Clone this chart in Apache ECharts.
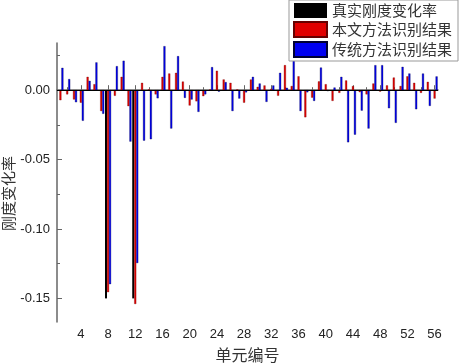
<!DOCTYPE html>
<html><head><meta charset="utf-8">
<script src="https://cdn.jsdelivr.net/npm/echarts@6/dist/echarts.min.js"></script>
<style>html,body{margin:0;padding:0;background:#fff}#c{width:459px;height:363px}</style>
</head><body><div id="c"></div>
<script>
const units = ['1','2','3','4','5','6','7','8','9','10','11','12','13','14','15','16','17','18','19','20',
'21','22','23','24','25','26','27','28','29','30','31','32','33','34','35','36','37','38','39','40',
'41','42','43','44','45','46','47','48','49','50','51','52','53','54','55','56'];
const trueVals = [0,0,0,0,0,0,0,-0.150,0,0,0,-0.150,0,0,0,0,0,0,0,0,
0,0,0,0,0,0,0,0,0,0,0,0,0,0,0,0,0,0,0,0,
0,0,0,0,0,0,0,0,0,0,0,0,0,0,0,0];
const ourVals = [-0.0072,-0.003,-0.0067,-0.009,0.0096,0.0043,-0.015,-0.1455,-0.004,0.0096,
-0.0115,-0.154,0.0053,0.0005,-0.003,0.0096,0.012,0.0125,0.0062,-0.011,
-0.008,-0.0043,0.0005,0.014,0.0077,0.0053,0.0005,-0.009,0.0077,0.0024,
0.0034,0.001,-0.004,0.018,0.003,0.010,-0.0195,-0.0053,0.0063,0.0043,
-0.0077,-0.0019,0.007,0.003,-0.0014,-0.003,0.0048,-0.001,0.0034,0.0091,
0.003,0.010,0.0053,-0.0019,0.006,-0.006];
const tradVals = [0.0161,0.008,-0.0087,-0.022,0.0067,0.020,-0.017,-0.1397,0.0173,0.0212,
-0.037,-0.1245,-0.0363,-0.0353,-0.0058,0.0317,-0.0276,0.0245,-0.0055,-0.0067,
-0.0156,-0.003,0.0166,-0.001,0.0058,-0.015,-0.006,-0.0015,0.0096,0.0048,
-0.0084,0.0034,0.0125,0.0017,0.0228,-0.015,-0.0015,-0.0077,0.0163,-0.0007,
0.0019,0.0096,-0.0375,-0.032,-0.0147,-0.0276,0.018,0.018,-0.013,-0.0235,
0.0168,0.012,-0.0137,0.012,-0.0113,0.0099];
const seriesNames = ['真实刚度变化率','本文方法识别结果','传统方法识别结果'];
const majorY = [-0.15,-0.10,-0.05,0.00];
const minorY = [-0.125,-0.075,-0.025,0.025];

const numFont = 'Liberation Sans';
const cjkFont = 'Noto Sans CJK SC';
const axisCol = '#666';

const chart = echarts.init(document.getElementById('c'), null, {renderer:'canvas'});
const barBase = {type:'bar', barWidth:2, barGap:'0%', xAxisIndex:0, yAxisIndex:0};
chart.setOption({
  animation:false,
  backgroundColor:'#fff',
  grid:{left:57, right:21, top:43, bottom:41, containLabel:false, outerBoundsMode:'none'},
  legend:{
    orient:'vertical', left:289, top:0, width:160,
    padding:[3,6,3,4], itemGap:3, itemWidth:33, itemHeight:15,
    borderColor:'#999', borderWidth:1, backgroundColor:'#fff',
    icon:'rect',
    textStyle:{fontFamily:cjkFont, fontSize:15, color:'#333'},
    data:seriesNames
  },
  xAxis:[
    {type:'category', data:units, position:'bottom',
     axisLine:{show:true, lineStyle:{color:axisCol, width:1.5}},
     axisTick:{show:true, inside:true, length:3, alignWithLabel:true,
       interval:(i)=> (i+1)%2===0, lineStyle:{color:axisCol, width:1}},
     axisLabel:{show:false}, splitLine:{show:false},
     name:'单元编号', nameLocation:'middle', nameGap:25, nameMoveOverlap:false,
     nameTextStyle:{fontFamily:cjkFont, fontSize:16, color:'#333'}},
    {type:'category', data:units, position:'bottom',
     axisLine:{show:false},
     axisTick:{show:true, inside:true, length:5, alignWithLabel:true,
       interval:(i)=> (i+1)%4===0, lineStyle:{color:axisCol, width:1}},
     axisLabel:{show:true, interval:(i)=> (i+1)%4===0, margin:6,
       fontFamily:numFont, fontSize:13, color:'#222'},
     splitLine:{show:false}}
  ],
  yAxis:[
    {type:'value', min:-0.167, max:0.034, position:'left',
     axisLine:{show:true, lineStyle:{color:axisCol, width:1.5}},
     axisTick:{show:true, inside:true, length:5, customValues:majorY, lineStyle:{color:axisCol, width:1}},
     axisLabel:{show:true, customValues:majorY, margin:7, fontFamily:numFont, fontSize:13, color:'#222',
       formatter:(v)=> v.toFixed(2)},
     splitLine:{show:false},
     name:'刚度变化率', nameLocation:'middle', nameGap:41, nameMoveOverlap:false,
     nameTextStyle:{fontFamily:cjkFont, fontSize:15, color:'#333', padding:[0,22,0,0]}},
    {type:'value', min:-0.167, max:0.034, position:'left',
     axisLine:{show:false},
     axisTick:{show:true, inside:true, length:3, customValues:minorY, lineStyle:{color:axisCol, width:1}},
     axisLabel:{show:false}, splitLine:{show:false}}
  ],
  series:[
    Object.assign({}, barBase, {name:seriesNames[0], data:trueVals, itemStyle:{color:'#000'}}),
    Object.assign({}, barBase, {name:seriesNames[1], data:ourVals, itemStyle:{color:'#e00000', borderColor:'#600', borderWidth:0.3},
      markLine:{silent:true, symbol:'none', label:{show:false},
        lineStyle:{color:'#000', width:1.2, type:'solid'}, data:[{yAxis:0}]}}),
    Object.assign({}, barBase, {name:seriesNames[2], data:tradVals, itemStyle:{color:'#0000f0', borderColor:'#003', borderWidth:0.3}})
  ]
});
</script></body></html>
